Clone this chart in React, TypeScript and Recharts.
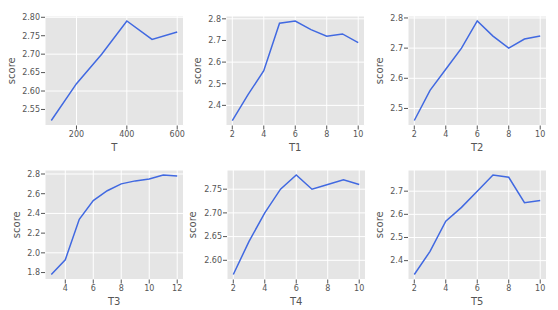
import { CartesianGrid, Line, LineChart, XAxis, YAxis } from "recharts";

// x values of each panel
const tX = [100, 200, 300, 400, 500, 600];
const t1X = [2, 3, 4, 5, 6, 7, 8, 9, 10];
const t2X = [2, 3, 4, 5, 6, 7, 8, 9, 10];
const t3X = [3, 4, 5, 6, 7, 8, 9, 10, 11, 12];
const t4X = [2, 3, 4, 5, 6, 7, 8, 9, 10];
const t5X = [2, 3, 4, 5, 6, 7, 8, 9, 10];

// scores
const tScore = [2.52, 2.62, 2.7, 2.79, 2.74, 2.76];
const t1Score = [2.33, 2.45, 2.56, 2.78, 2.79, 2.75, 2.72, 2.73, 2.69];
const t2Score = [2.46, 2.56, 2.63, 2.7, 2.79, 2.74, 2.7, 2.73, 2.74];
const t3Score = [1.78, 1.93, 2.34, 2.53, 2.63, 2.7, 2.73, 2.75, 2.79, 2.78];
const t4Score = [2.57, 2.64, 2.7, 2.75, 2.78, 2.75, 2.76, 2.77, 2.76];
const t5Score = [2.34, 2.44, 2.57, 2.63, 2.7, 2.77, 2.76, 2.65, 2.66];

// tick labels
const tXTicks = [200, 400, 600];
const t1XTicks = [2, 4, 6, 8, 10];
const t2XTicks = [2, 4, 6, 8, 10];
const t3XTicks = [4, 6, 8, 10, 12];
const t4XTicks = [2, 4, 6, 8, 10];
const t5XTicks = [2, 4, 6, 8, 10];

const tYTicks = [2.55, 2.6, 2.65, 2.7, 2.75, 2.8];
const t1YTicks = [2.4, 2.5, 2.6, 2.7, 2.8];
const t2YTicks = [2.5, 2.6, 2.7, 2.8];
const t3YTicks = [1.8, 2.0, 2.2, 2.4, 2.6, 2.8];
const t4YTicks = [2.6, 2.65, 2.7, 2.75];
const t5YTicks = [2.4, 2.5, 2.6, 2.7];

const LABEL_COLOR = "#555555";
const FONT = "DejaVu Sans, sans-serif";

// matplotlib-like 5% padding around the data range
const pad = (vals: number[]): [number, number] => {
  const lo = Math.min(...vals);
  const hi = Math.max(...vals);
  const m = (hi - lo) * 0.05;
  return [lo - m, hi + m];
};

type PanelProps = {
  name: string;
  xs: number[];
  ys: number[];
  xTicks: number[];
  yTicks: number[];
  decimals: number;
  left: number; // plot area left (page px)
  top: number; // plot area top (page px)
  labelGap: number;
};

const YW = 45;
const MT = 5;
const MR = 5;
const XH = 30;
const PW = 138.5;
const PH = 109.5;

function Panel({ name, xs, ys, xTicks, yTicks, decimals, left, top, labelGap }: PanelProps) {
  const data = xs.map((x, i) => ({ x, y: ys[i] }));

  const yLabel = (props: any) => {
    const vb = props.viewBox;
    const cy = vb.y + vb.height / 2;
    const bx = YW - labelGap;
    return (
      <text
        x={bx}
        y={cy}
        transform={`rotate(-90 ${bx} ${cy})`}
        textAnchor="middle"
        fill={LABEL_COLOR}
        fontSize={10}
        fontFamily={FONT}
      >
        score
      </text>
    );
  };

  const xLabel = (props: any) => {
    const vb = props.viewBox;
    return (
      <text
        x={vb.x + vb.width / 2}
        y={vb.y + 25.5}
        textAnchor="middle"
        fill={LABEL_COLOR}
        fontSize={10}
        fontFamily={FONT}
      >
        {name}
      </text>
    );
  };

  return (
    <div style={{ position: "absolute", left: left - YW, top: top - MT }}>
      <LineChart
        width={YW + PW + MR}
        height={MT + PH + XH}
        data={data}
        margin={{ top: MT, right: MR, bottom: 0, left: 0 }}
      >
        <CartesianGrid fill="#E5E5E5" stroke="#FFFFFF" strokeWidth={1} />
        <XAxis
          dataKey="x"
          type="number"
          domain={pad(xs)}
          ticks={xTicks}
          allowDataOverflow
          height={XH}
          axisLine={false}
          tickSize={4}
          tickMargin={2}
          tickLine={{ stroke: LABEL_COLOR }}
          tick={{ fill: LABEL_COLOR, fontSize: 8, fontFamily: FONT }}
          label={xLabel}
        />
        <YAxis
          type="number"
          domain={pad(ys)}
          ticks={yTicks}
          allowDataOverflow
          width={YW}
          axisLine={false}
          tickSize={4}
          tickMargin={1}
          tickLine={{ stroke: LABEL_COLOR }}
          tick={{ fill: LABEL_COLOR, fontSize: 8, fontFamily: FONT }}
          tickFormatter={(v: number) => v.toFixed(decimals)}
          label={yLabel}
        />
        <Line
          dataKey="y"
          stroke="#4169E1"
          strokeWidth={1.5}
          dot={false}
          activeDot={false}
          isAnimationActive={false}
        />
      </LineChart>
    </div>
  );
}

export default function App() {
  return (
    <div
      style={{
        position: "absolute",
        left: 0,
        top: 0,
        width: 558,
        height: 310,
        background: "#FFFFFF",
        overflow: "hidden",
      }}
    >
      <Panel name="T" xs={tX} ys={tScore} xTicks={tXTicks} yTicks={tYTicks} decimals={2} left={45} top={15.5} labelGap={30} />
      <Panel name="T1" xs={t1X} ys={t1Score} xTicks={t1XTicks} yTicks={t1YTicks} decimals={1} left={226} top={15.5} labelGap={25} />
      <Panel name="T2" xs={t2X} ys={t2Score} xTicks={t2XTicks} yTicks={t2YTicks} decimals={1} left={407.5} top={15.5} labelGap={25} />
      <Panel name="T3" xs={t3X} ys={t3Score} xTicks={t3XTicks} yTicks={t3YTicks} decimals={1} left={45} top={169.5} labelGap={25.5} />
      <Panel name="T4" xs={t4X} ys={t4Score} xTicks={t4XTicks} yTicks={t4YTicks} decimals={2} left={226.5} top={169.5} labelGap={31} />
      <Panel name="T5" xs={t5X} ys={t5Score} xTicks={t5XTicks} yTicks={t5YTicks} decimals={1} left={407.5} top={169.5} labelGap={25.5} />
    </div>
  );
}
